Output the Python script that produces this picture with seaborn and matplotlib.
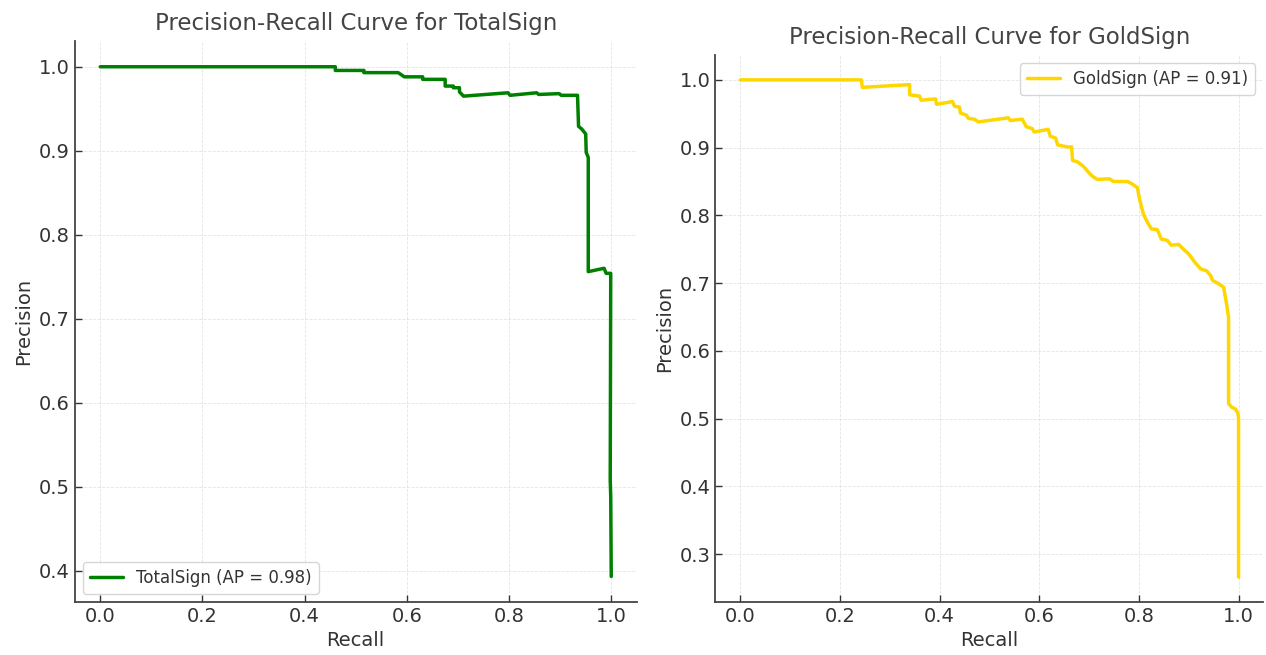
import numpy as np
import pandas as pd
import matplotlib
matplotlib.use("Agg")
import matplotlib.pyplot as plt
import seaborn as sns

# PR curve vertices (recall, precision)
total_recall = [0.0, 0.460, 0.460, 0.516, 0.516, 0.583, 0.595, 0.631, 0.631, 0.675,
                0.675, 0.691, 0.691, 0.703, 0.703, 0.711, 0.798, 0.802, 0.854, 0.858,
                0.898, 0.902, 0.934, 0.936, 0.942, 0.950, 0.951, 0.955, 0.955, 0.986,
                0.990, 0.999, 0.998, 0.999, 1.0]
total_precision = [1.0, 1.0, 0.9956, 0.9956, 0.993, 0.993, 0.988, 0.988, 0.985, 0.985,
                   0.977, 0.977, 0.975, 0.975, 0.970, 0.965, 0.969, 0.966, 0.969, 0.967,
                   0.968, 0.966, 0.966, 0.929, 0.926, 0.920, 0.898, 0.892, 0.756, 0.760,
                   0.754, 0.754, 0.508, 0.488, 0.393]

gold_recall = [0.0, 0.243, 0.245, 0.340, 0.340, 0.360, 0.363, 0.392, 0.394, 0.426,
               0.430, 0.440, 0.442, 0.454, 0.458, 0.470, 0.478, 0.538, 0.542, 0.566,
               0.574, 0.586, 0.590, 0.618, 0.622, 0.633, 0.637, 0.657, 0.665, 0.667,
               0.677, 0.689, 0.701, 0.708, 0.717, 0.741, 0.749, 0.777, 0.785, 0.797,
               0.801, 0.809, 0.817, 0.825, 0.837, 0.845, 0.857, 0.865, 0.880, 0.888,
               0.900, 0.912, 0.924, 0.936, 0.944, 0.948, 0.960, 0.970, 0.976, 0.980,
               0.980, 0.980, 0.986, 0.994, 0.999, 1.0, 1.0]
gold_precision = [1.0, 1.0, 0.989, 0.993, 0.978, 0.976, 0.970, 0.972, 0.964, 0.968,
                  0.961, 0.960, 0.951, 0.948, 0.943, 0.942, 0.938, 0.944, 0.940, 0.942,
                  0.931, 0.928, 0.923, 0.927, 0.917, 0.914, 0.904, 0.901, 0.901, 0.881,
                  0.879, 0.872, 0.862, 0.857, 0.853, 0.854, 0.850, 0.850, 0.847, 0.841,
                  0.825, 0.802, 0.790, 0.780, 0.779, 0.765, 0.763, 0.756, 0.757, 0.751,
                  0.743, 0.731, 0.721, 0.718, 0.711, 0.704, 0.699, 0.694, 0.669, 0.649,
                  0.600, 0.522, 0.517, 0.514, 0.507, 0.500, 0.266]

total_ap = 0.98
gold_ap = 0.91

sns.set_style("ticks")
plt.rcParams['font.family'] = ['DejaVu Sans']
plt.rcParams['text.color'] = '#333333'
plt.rcParams['axes.labelcolor'] = '#333333'
plt.rcParams['xtick.color'] = '#333333'
plt.rcParams['ytick.color'] = '#333333'

fig = plt.figure(figsize=(12.66, 6.55), dpi=100)
ax1 = fig.add_axes([0.059, 0.081, 0.444, 0.856])
ax2 = fig.add_axes([0.565, 0.081, 0.433, 0.835])

panels = [
    (ax1, total_recall, total_precision, 'green', f'TotalSign (AP = {total_ap:.2f})',
     'Precision-Recall Curve for TotalSign', 'lower left'),
    (ax2, gold_recall, gold_precision, 'gold', f'GoldSign (AP = {gold_ap:.2f})',
     'Precision-Recall Curve for GoldSign', 'upper right'),
]

for ax, rec, prec, color, label, title, loc in panels:
    df = pd.DataFrame({'Recall': rec, 'Precision': prec})
    sns.lineplot(data=df, x='Recall', y='Precision', ax=ax, sort=False, estimator=None,
                 color=color, linewidth=2.5, label=label)
    ax.set_title(title, fontsize=16.5, pad=8, color='#444444')
    ax.set_xlabel('Recall', fontsize=14)
    ax.set_ylabel('Precision', fontsize=14)
    ax.tick_params(direction='in', labelsize=14, length=5, width=1)
    ax.grid(True, linestyle='--', linewidth=0.6, color='#dddddd', alpha=0.8)
    ax.set_xticks([0.0, 0.2, 0.4, 0.6, 0.8, 1.0])
    sns.despine(ax=ax)
    for s in ['left', 'bottom']:
        ax.spines[s].set_color('#444444')
        ax.spines[s].set_linewidth(1.3)
    ax.legend(loc=loc, fontsize=12, frameon=True)

fig.savefig('out.png', dpi=100)
